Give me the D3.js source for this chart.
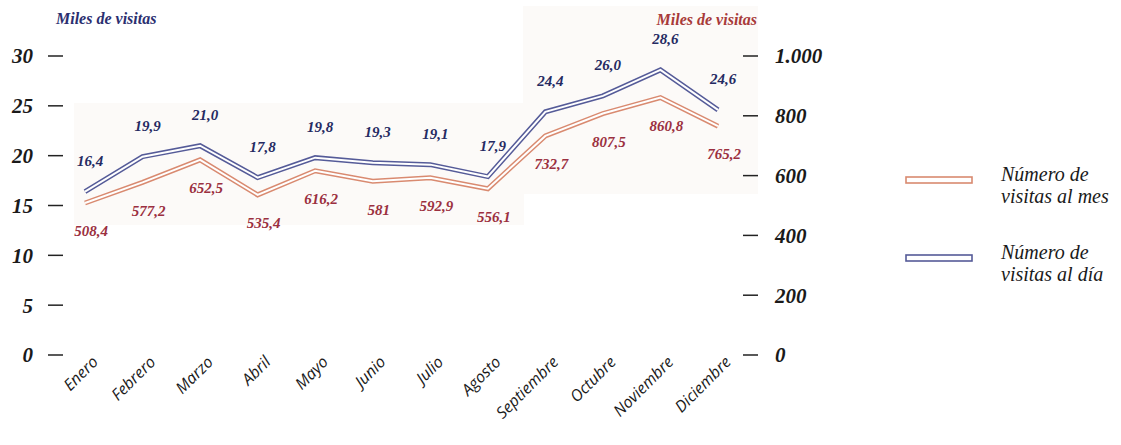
<!DOCTYPE html>
<html>
<head>
<meta charset="utf-8">
<script src="https://cdn.jsdelivr.net/npm/d3@7"></script>
<style>
  body { margin: 0; background: #fff; }
  svg { display: block; }
</style>
</head>
<body>
<div id="chart"></div>
<script>
// Datos
const months = ['Enero', 'Febrero', 'Marzo', 'Abril', 'Mayo', 'Junio', 'Julio',
                'Agosto', 'Septiembre', 'Octubre', 'Noviembre', 'Diciembre'];
const visitasDia = [16.4, 19.9, 21.0, 17.8, 19.8, 19.3, 19.1, 17.9, 24.4, 26.0, 28.6, 24.6];
const visitasMes = [508.4, 577.2, 652.5, 535.4, 616.2, 581, 592.9, 556.1, 732.7, 807.5, 860.8, 765.2];
const leftTicks = [0, 5, 10, 15, 20, 25, 30];
const rightTicks = [0, 200, 400, 600, 800, 1000];

const width = 1121, height = 445;
const blue = '#555b98', red = '#d98a70';
const blueText = '#252a62', redText = '#9b3040';
const numFont = '"Liberation Serif", serif';

const svg = d3.select('#chart').append('svg')
    .attr('width', width)
    .attr('height', height);

const x = d3.scalePoint().domain(months).range([85, 718]);
const yLeft = d3.scaleLinear().domain([0, 30]).range([355, 56]);
const yRight = d3.scaleLinear().domain([0, 1000]).range([355, 56]);

// fondo sombreado
svg.append('rect')
    .attr('x', 74).attr('y', 103).attr('width', 450).attr('height', 122)
    .style('fill', '#fcfaf8');
svg.append('rect')
    .attr('x', 523).attr('y', 6).attr('width', 235).attr('height', 188)
    .style('fill', '#fcfaf8');

// Titulos de ejes
svg.append('text')
    .attr('x', 56).attr('y', 24)
    .style('font-family', numFont)
    .style('font-style', 'italic').style('font-weight', 'bold')
    .style('font-size', '16px').style('fill', '#2b2f70')
    .text('Miles de visitas');
svg.append('text')
    .attr('x', 757).attr('y', 25)
    .attr('text-anchor', 'end')
    .style('font-family', numFont)
    .style('font-style', 'italic').style('font-weight', 'bold')
    .style('font-size', '16px').style('fill', '#a83a3a')
    .text('Miles de visitas');

// Eje izquierdo
const leftAxis = svg.append('g');
leftAxis.selectAll('line')
    .data(leftTicks).enter().append('line')
    .attr('x1', 48).attr('x2', 63)
    .attr('y1', d => yLeft(d)).attr('y2', d => yLeft(d))
    .style('stroke', '#222').style('stroke-width', 1.5);
leftAxis.selectAll('text')
    .data(leftTicks).enter().append('text')
    .attr('x', 33).attr('y', d => yLeft(d))
    .attr('dy', '0.35em')
    .attr('text-anchor', 'end')
    .style('font-family', numFont)
    .style('font-style', 'italic').style('font-weight', 'bold')
    .style('font-size', '21px').style('fill', '#1a1a1a')
    .text(d => d);

// Eje derecho
const rightAxis = svg.append('g');
rightAxis.selectAll('line')
    .data(rightTicks).enter().append('line')
    .attr('x1', 743).attr('x2', 758)
    .attr('y1', d => yRight(d)).attr('y2', d => yRight(d))
    .style('stroke', '#222').style('stroke-width', 1.5);
rightAxis.selectAll('text')
    .data(rightTicks).enter().append('text')
    .attr('x', 775).attr('y', d => yRight(d))
    .attr('dy', '0.35em')
    .style('font-family', numFont)
    .style('font-style', 'italic').style('font-weight', 'bold')
    .style('font-size', '21px').style('fill', '#1a1a1a')
    .text(d => d3.format(',')(d).replace(',', '.'));

// Lineas dobles
function doubleLine(values, yScale, color) {
    const line = d3.line()
        .x((d, i) => x(months[i]))
        .y(d => yScale(d));
    svg.append('path')
        .datum(values)
        .attr('d', line)
        .style('fill', 'none')
        .style('stroke', color)
        .style('stroke-width', 5)
        .style('stroke-linejoin', 'miter');
    svg.append('path')
        .datum(values)
        .attr('d', line)
        .style('fill', 'none')
        .style('stroke', '#fff')
        .style('stroke-width', 2)
        .style('stroke-linejoin', 'miter');
}
doubleLine(visitasMes, yRight, red);
doubleLine(visitasDia, yLeft, blue);

// Etiquetas de valores
svg.append('g').selectAll('text')
    .data(visitasDia).enter().append('text')
    .attr('x', (d, i) => x(months[i]) + 5)
    .attr('y', d => yLeft(d) - 31)
    .attr('dy', '0.35em')
    .attr('text-anchor', 'middle')
    .style('font-family', numFont)
    .style('font-style', 'italic').style('font-weight', 'bold')
    .style('font-size', '15px').style('fill', blueText)
    .text(d => d3.format('.1f')(d).replace('.', ','));

svg.append('g').selectAll('text')
    .data(visitasMes).enter().append('text')
    .attr('x', (d, i) => x(months[i]) + 6)
    .attr('y', d => yRight(d) + 28)
    .attr('dy', '0.35em')
    .attr('text-anchor', 'middle')
    .style('font-family', numFont)
    .style('font-style', 'italic').style('font-weight', 'bold')
    .style('font-size', '15px').style('fill', redText)
    .text(d => String(d).replace('.', ','));

// Meses
svg.append('g').selectAll('text')
    .data(months).enter().append('text')
    .attr('transform', d => `translate(${x(d) + 14}, 363) rotate(-45)`)
    .attr('text-anchor', 'end')
    .style('font-family', '"Open Sans", sans-serif')
    .style('font-style', 'italic')
    .style('font-size', '16px').style('fill', '#1a1a1a')
    .text(d => d);

// Leyenda
const legend = [
    { color: red, lines: ['Número de', 'visitas al mes'], y: 180 },
    { color: blue, lines: ['Número de', 'visitas al día'], y: 258 }
];
const lg = svg.append('g').selectAll('g')
    .data(legend).enter().append('g')
    .attr('transform', d => `translate(0, ${d.y})`);
lg.append('rect')
    .attr('x', 906).attr('y', -3).attr('width', 66).attr('height', 6)
    .style('fill', '#fff')
    .style('stroke', d => d.color)
    .style('stroke-width', 1.6);
lg.append('text')
    .attr('x', 1001).attr('y', 1)
    .style('font-family', numFont)
    .style('font-style', 'italic')
    .style('font-size', '20px').style('fill', '#1a1a1a')
    .selectAll('tspan')
    .data(d => d.lines).enter().append('tspan')
    .attr('x', 1001)
    .attr('dy', (d, i) => i === 0 ? 0 : 22)
    .text(d => d);
</script>
</body>
</html>
